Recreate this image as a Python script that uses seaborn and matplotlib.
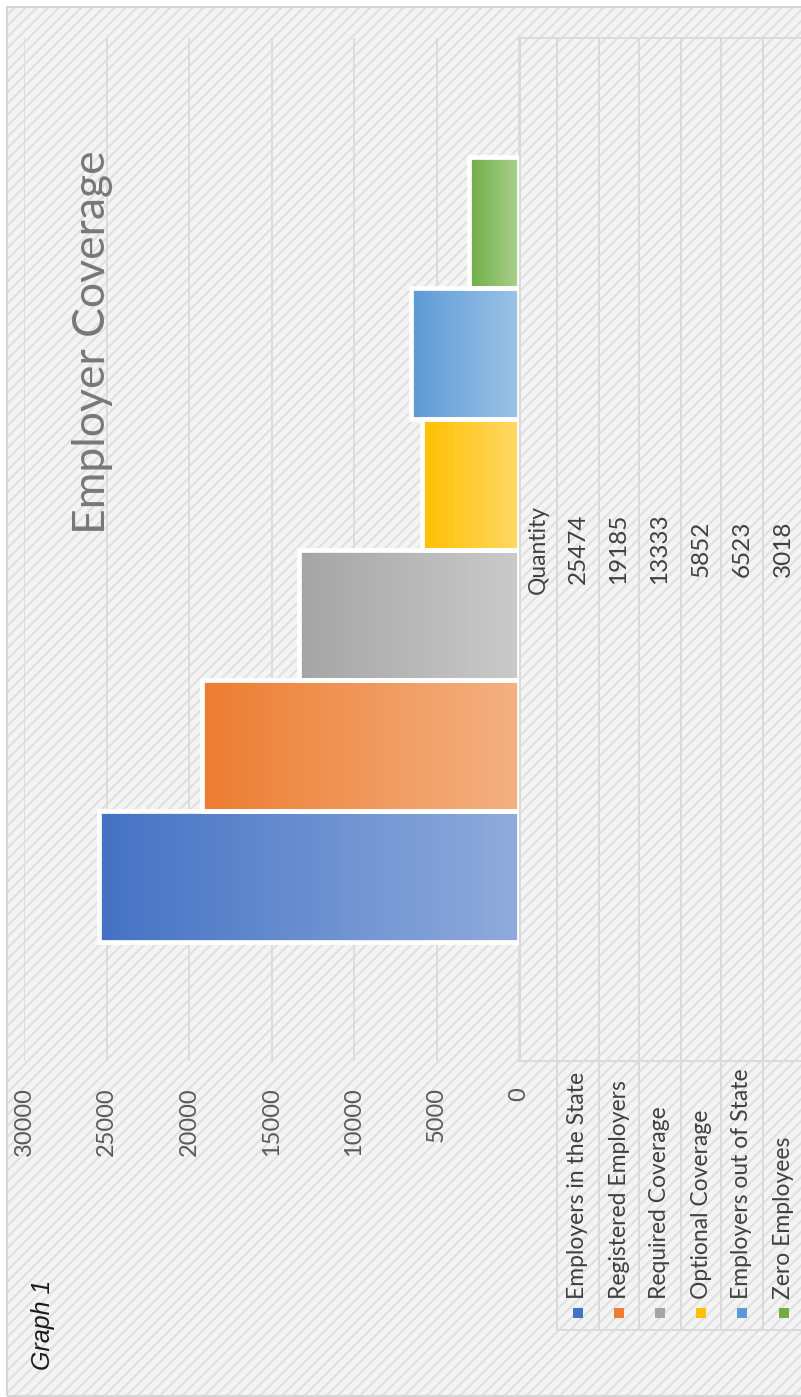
import numpy as np
import pandas as pd
import matplotlib
matplotlib.use("Agg")
import matplotlib.pyplot as plt
import seaborn as sns
from matplotlib.patches import Rectangle
from matplotlib.lines import Line2D
from matplotlib.colors import LinearSegmentedColormap

# ---------------- data ----------------
series = ["Employers in the State", "Registered Employers", "Required Coverage",
          "Optional Coverage", "Employers out of State", "Zero Employees"]
values = [25474, 19185, 13333, 5852, 6523, 3018]
category = "Quantity"
ticks = [0, 5000, 10000, 15000, 20000, 25000, 30000]
tick_labels = ["0", "5000", "10000", "15000", "20000", "25000", "30000"]
dark_colors = ["#4472C4", "#ED7D31", "#A5A5A5", "#FFC000", "#5B9BD5", "#70AD47"]
light_colors = ["#90ABDC", "#F4B183", "#CACACA", "#FFD966", "#9DC3E6", "#A9D18E"]
title = "Employer Coverage"
caption = "Graph 1"

# ---------------- figure ----------------
W, H = 801, 1397
DPI = 100
sns.set_theme(style="white")
plt.rcParams['font.family'] = ['Lato', 'DejaVu Sans']
plt.rcParams['hatch.linewidth'] = 1.6

fig = plt.figure(figsize=(W / DPI, H / DPI), dpi=DPI)
fig.patch.set_facecolor('white')


def fx(px):
    return px / W


def fy(py):
    return 1 - py / H


# hatched chart background and border
bg = Rectangle((fx(7), fy(1396)), fx(810) - fx(7), fy(7) - fy(1396),
               transform=fig.transFigure, facecolor='#f4f4f4', edgecolor='#e1e1e1',
               hatch='///', linewidth=0, zorder=-10)
fig.add_artist(bg)
border = Rectangle((fx(7), fy(1396)), fx(810) - fx(7), fy(7) - fy(1396),
                   transform=fig.transFigure, facecolor='none', edgecolor='#d6d6d6',
                   linewidth=1.5, zorder=-9)
fig.add_artist(border)

# ---------------- plot area ----------------
ax = fig.add_axes([fx(24), fy(1061), fx(519) - fx(24), fy(38) - fy(1061)])
ax.patch.set_alpha(0)

df = pd.DataFrame({"category": [category] * len(series), "series": series, "value": values})
sns.barplot(data=df, x="value", y="category", hue="series", hue_order=series,
            palette=dark_colors, orient="h", width=0.768, dodge=True,
            edgecolor="white", linewidth=3.4, legend=False, saturation=1, ax=ax,
            zorder=3)

bars = [p for p in ax.patches if isinstance(p, Rectangle)]
for p, dc, lc in zip(bars, dark_colors, light_colors):
    x0 = p.get_x()
    w = p.get_width()
    y0 = p.get_y()
    h = p.get_height()
    cmap = LinearSegmentedColormap.from_list("g", [lc, dc])
    grad = np.linspace(0, 1, 256).reshape(1, -1)
    im = ax.imshow(grad, cmap=cmap, aspect='auto', interpolation='bilinear',
                   extent=(x0, x0 + w, y0, y0 + h), zorder=2.9)
    im.set_clip_path(p)
    p.set_facecolor('none')

ax.set_xlim(30000, 0)
ax.set_ylim(-0.5, 0.5)
ax.set_xticks(ticks)
ax.set_xticklabels(tick_labels, rotation=90, color='#595959', fontsize=17)
ax.tick_params(axis='x', length=0, pad=19)
ax.set_yticks([])
ax.set_xlabel("")
ax.set_ylabel("")
ax.grid(axis='x', color='#d9d9d9', linewidth=1.2, zorder=1)
ax.grid(axis='y', visible=False)
ax.set_axisbelow(True)
for s in ax.spines.values():
    s.set_visible(False)

# ---------------- data table ----------------
lc_tab = '#dadada'
lw_tab = 1.4


def hline(y, xa, xb):
    fig.add_artist(Line2D([fx(xa), fx(xb)], [fy(y), fy(y)], transform=fig.transFigure,
                          color=lc_tab, linewidth=lw_tab, zorder=1))


def vline(x, ya, yb):
    fig.add_artist(Line2D([fx(x), fx(x)], [fy(ya), fy(yb)], transform=fig.transFigure,
                          color=lc_tab, linewidth=lw_tab, zorder=1))


row_edges = [557, 599, 639, 681, 721, 763, 804]
hline(38, 520, 810)
hline(1061, 518, 810)
hline(1330, 557, 810)
vline(520, 38, 1061)
for xe in row_edges:
    vline(xe, 38, 1330)

fig.text(fx(538), fy(549), category, rotation=90, ha='center', va='center',
         fontsize=16.5, color='#404040')
for i, (name, v, dc) in enumerate(zip(series, values, dark_colors)):
    xc = (row_edges[i] + row_edges[i + 1]) / 2
    fig.text(fx(xc), fy(549), str(v), rotation=90, ha='center', va='center',
             fontsize=17.5, color='#404040')
    fig.text(fx(xc), fy(1299), name, rotation=90, ha='center', va='bottom',
             fontsize=16.5, color='#404040')
    fig.add_artist(Rectangle((fx(xc - 5), fy(1318)), fx(10), 10 / H,
                             transform=fig.transFigure, facecolor=dc,
                             edgecolor='none', zorder=2))

# ---------------- titles ----------------
fig.text(fx(93), fy(342), title, rotation=90, ha='center', va='center',
         fontsize=32, color='#787878')
fig.text(fx(43), fy(1325), caption, rotation=90, ha='center', va='center',
         fontsize=18, fontstyle='italic', family=['Liberation Sans', 'DejaVu Sans'],
         color='#1a1a1a')

fig.savefig('out.png', dpi=DPI)
